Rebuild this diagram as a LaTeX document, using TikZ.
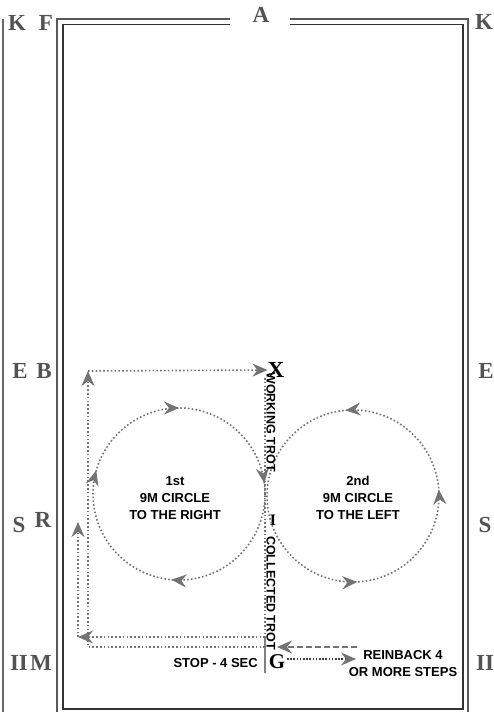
\documentclass[tikz,border=0pt]{standalone}
\usepackage{fontspec}
\setmainfont{Liberation Serif}
\setsansfont{Liberation Sans}
\usetikzlibrary{arrows.meta,decorations.markings}
\tikzset{
  letter/.style={font=\fontsize{23}{23}\selectfont\bfseries, text=gray!65!black, inner sep=0pt},
  pointletter/.style={font=\fontsize{23}{23}\selectfont\bfseries, text=black, inner sep=0pt},
  note/.style={font=\sffamily\bfseries\fontsize{13}{17}\selectfont, align=center, inner sep=0pt},
  trot/.style={font=\sffamily\bfseries\fontsize{12.5}{12.5}\selectfont, rotate=-90, inner sep=0pt},
  dots/.style={draw=gray!90!black, line width=1.6pt, dash pattern=on 1.6pt off 2.2pt},
  fine dots/.style={draw=gray!50!black, line width=1.6pt, dash pattern=on 1.6pt off 1.6pt},
  dashes/.style={draw=gray!90!black, line width=1.8pt, dash pattern=on 6pt off 3pt},
  tip/.style={-{Stealth[length=15pt,width=13pt,inset=5pt,gray!90!black]}},
  board/.style={line width=1.5pt},
}
\newcommand{\arenatip}{Stealth[length=15pt,width=13pt,inset=5pt,gray!90!black]}
\begin{document}
\begin{tikzpicture}[x=1pt, y=-1pt]
\useasboundingbox (0,0) rectangle (494,712);
% outside line
\draw[gray!80!black, line width=1.6pt] (3,19) -- (3,712);
% arena boards, double line with gap at A
\draw[board, gray!70!black] (230,19) -- (57,19) -- (57,712);
\draw[board, gray!70!black] (290,19) -- (468,19) -- (468,712);
\draw[board, black!80] (230,24.5) -- (63,24.5) -- (63,709) -- (463,709) -- (463,24.5) -- (290,24.5);
% letters
\node[letter] (K1) at (17,23) {K};
\node[letter] (F) at (46,23) {F};
\node[letter] (A) at (261,15) {A};
\node[letter] (K2) at (484,22) {K};
\node[letter] (E1) at (20,371) {E};
\node[letter] (B) at (44,371) {B};
\node[letter] (E2) at (486,371) {E};
\node[letter] (S1) at (19,525) {S};
\node[letter] (R) at (43,520) {R};
\node[letter] (S2) at (485,525) {S};
\node[letter] (H1) at (19,663) {II};
\node[letter] (M) at (41,663) {M};
\node[letter] (H2) at (485,663) {II};
\node[pointletter] (X) at (276,370) {X};
\node[pointletter, font=\fontsize{16}{16}\selectfont\bfseries] (I) at (273,520) {I};
\node[pointletter, font=\fontsize{21}{21}\selectfont\bfseries] (G) at (277,662) {G};
% corners of the route
\coordinate (xtop) at (265,378);
\coordinate (gtop) at (265,636);
\coordinate (gbot) at (265,673);
\coordinate (g1) at (265,637);
\coordinate (g2) at (265,647);
\coordinate (c1) at (179,494);
\coordinate (c2) at (353,496);
\coordinate (b1) at (88,371);
\coordinate (s1) at (78,522);
\coordinate (r1) at (357,647);
\coordinate (r2) at (277,647);
\coordinate (gr) at (287,659);
\coordinate (rb) at (356,659);
% centre line
\draw[dots] (xtop) -- (gtop);
\draw[gray, line width=1.8pt] (gtop) -- (gbot);
% circles
\draw[dots, decoration={markings,
    mark=at position 0.264 with {\arrow{\arenatip}},
    mark=at position 0.544 with {\arrow{\arenatip}},
    mark=at position 0.75 with {\arrow{\arenatip}},
    mark=at position 0.98 with {\arrow{\arenatip}}}, postaction={decorate}]
  (c1) ++(0:86) arc[start angle=0, end angle=360, radius=86];
\draw[dots, decoration={markings,
    mark=at position 0.012 with {\arrow{\arenatip}},
    mark=at position 0.264 with {\arrow{\arenatip}},
    mark=at position 0.758 with {\arrow{\arenatip}}}, postaction={decorate}]
  (c2) ++(0:86) arc[start angle=0, end angle=-360, radius=86];
% route back up the long side
\draw[dots, tip] (g2) -| (b1);
\draw[dots, tip] (b1) -- (X.west);
\draw[dots, tip] (g1) -- (s1 |- g1);
\draw[dots, tip] (s1 |- g1) -- (s1);
% reinback
\draw[dashes, tip] (r1) -- (r2);
\draw[fine dots, tip] (gr) -- (rb);
% texts
\node[trot] (wt) at (271,422) {WORKING TROT};
\node[trot] (ct) at (271,593) {COLLECTED TROT};
\node[note] (c1txt) at (175,498) {1st\\9M CIRCLE\\TO THE RIGHT};
\node[note] (c2txt) at (358,498) {2nd\\9M CIRCLE\\TO THE LEFT};
\node[note, anchor=east] (stop) at (258,663) {STOP - 4 SEC};
\node[note] (rein) at (403,664) {REINBACK 4\\OR MORE STEPS};
\end{tikzpicture}
\end{document}
